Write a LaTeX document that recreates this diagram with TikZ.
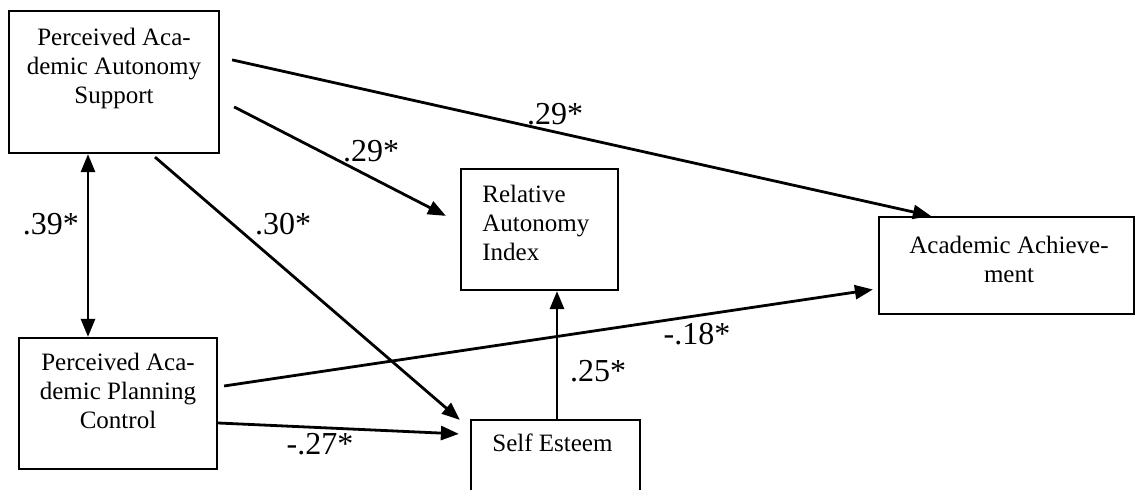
\documentclass[tikz,border=0pt]{standalone}
\usepackage{fontspec}
\setmainfont{Liberation Serif}
\usetikzlibrary{arrows.meta,positioning,calc}

\begin{document}
\begin{tikzpicture}[
      x=0.5pt, y=-0.5pt,
      box/.style={draw, line width=1.1pt, inner sep=0pt},
      boxtext/.style={font=\fontsize{12.5}{14.5}\selectfont, inner sep=0pt, align=center},
      coef/.style={font=\fontsize{16}{18}\selectfont, inner sep=0pt, anchor=base},
      effect/.style={line width=1.4pt, >={Triangle[length=9pt,width=7pt]}, ->}
  ]
    \useasboundingbox (0,0) rectangle (1136,490);
    \clip (0,0) rectangle (1136,490);

    % variables
    \node[box, minimum width=105pt, minimum height=71pt] (paas) at (114,82) {};
    \node[boxtext, anchor=north] (paastext) at (114,28) {Perceived Aca-\\demic Autonomy\\Support};
    \node[box, minimum width=99pt, minimum height=65.5pt] (papc) at (118,403.5) {};
    \node[boxtext, anchor=north] (papctext) at (118,353) {Perceived Aca-\\demic Planning\\Control};
    \node[box, minimum width=78.5pt, minimum height=60.5pt] (rai) at (539.5,229.5) {};
    \node[boxtext, align=left, anchor=north west] (raitext) at (482,185) {Relative\\Autonomy\\Index};
    \node[box, minimum width=127.5pt, minimum height=48.5pt] (aa) at (1006.5,265.5) {};
    \node[boxtext, anchor=north] (aatext) at (1009,236) {Academic Achieve-\\ment};
    \node[box, minimum width=84.5pt, minimum height=50pt] (se) at (555.5,470) {};
    \node[boxtext, anchor=base west] (setext) at (492,452) {Self Esteem};

    % paths
    \draw[effect] ($(paas.north east)+(12,50)$) -- ($(aa.north west)+(53,0)$);
    \draw[effect] ($(paas.north east)+(14,97)$) -- ($(rai.north west)+(-14,48)$);
    \draw[effect] ($(paas.south)+(41,3)$) -- ($(se.north west)+(-10,1)$);
    \draw[effect, <->] ($(paas.south)+(-26,0)$) -- ($(papc.north)+(-30,0)$);
    \draw[effect] ($(papc.east)+(6,-17.5)$) -- ($(aa.west)+(-5,24)$);
    \draw[effect] ($(papc.east)+(0,19.5)$) -- ($(se.north west)+(-11,15)$);
    \draw[effect] ($(se.north)+(1.5,0)$) -- ($(rai.south)+(17.5,0)$);

    % coefficients
    \node[coef] (c1) at (555,125) {.29*};
    \node[coef] (c2) at (371,162) {.29*};
    \node[coef] (c3) at (283,235) {.30*};
    \node[coef] (c4) at (51,235) {.39*};
    \node[coef] (c5) at (697,345) {-.18*};
    \node[coef] (c6) at (320,455) {-.27*};
    \node[coef] (c7) at (598,382) {.25*};
\end{tikzpicture}
\end{document}
